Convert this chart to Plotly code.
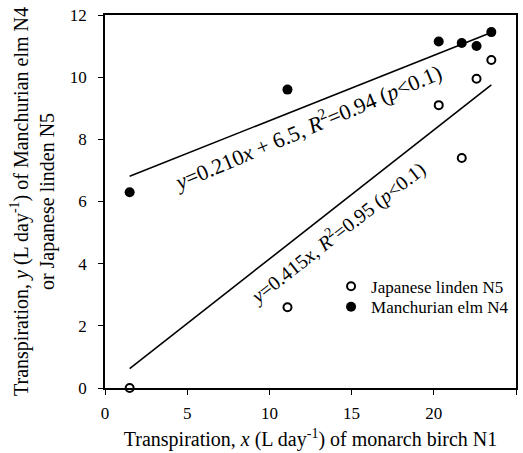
import plotly.graph_objects as go

# Daily transpiration (L/day): monarch birch N1 on x
birch_x = [1.5, 11.1, 20.3, 21.7, 22.6, 23.5]
# Japanese linden N5 and Manchurian elm N4 on the same days
linden_y = [0.0, 2.6, 9.1, 7.4, 9.95, 10.55]
elm_y = [6.3, 9.6, 11.15, 11.1, 11.0, 11.45]

# Fitted regressions
elm_slope, elm_icpt = 0.210, 6.5
linden_slope = 0.415
fit_x = [min(birch_x), max(birch_x)]

FONT = "Liberation Serif"

fig = go.Figure()

fig.add_trace(go.Scatter(
    x=fit_x, y=[elm_slope * v + elm_icpt for v in fit_x],
    mode="lines", line=dict(color="black", width=1.6), showlegend=False,
    hoverinfo="skip"))
fig.add_trace(go.Scatter(
    x=fit_x, y=[linden_slope * v for v in fit_x],
    mode="lines", line=dict(color="black", width=1.6), showlegend=False,
    hoverinfo="skip"))

fig.add_trace(go.Scatter(
    x=birch_x, y=linden_y, mode="markers", name="Japanese linden N5",
    legend="legend",
    marker=dict(symbol="circle-open", size=8, color="black",
                line=dict(width=2, color="black"))))
fig.add_trace(go.Scatter(
    x=birch_x, y=elm_y, mode="markers", name="Manchurian elm N4",
    legend="legend2",
    marker=dict(symbol="circle", size=10, color="black")))

fig.add_annotation(
    x=12.3, y=8.42, xref="x", yref="y", showarrow=False, textangle=-23,
    text="<i>y</i>=0.210<i>x</i> + 6.5, <i>R</i><sup>2</sup>=0.94 (<i>p</i><0.1)",
    font=dict(family=FONT, size=22, color="black"))
fig.add_annotation(
    x=14.1, y=5.0, xref="x", yref="y", showarrow=False, textangle=-38,
    text="<i>y</i>=0.415<i>x</i>, <i>R</i><sup>2</sup>=0.95 (<i>p</i><0.1)",
    font=dict(family=FONT, size=20, color="black"))

axis_common = dict(
    showline=True, linecolor="black", linewidth=1.5, mirror=True,
    ticks="outside", ticklen=5, tickcolor="black", tickwidth=1.2,
    showgrid=False, zeroline=False, automargin=False,
    tickfont=dict(family=FONT, size=17, color="black"))

fig.update_xaxes(
    range=[0, 25], dtick=5, ticklabelstandoff=4,
    title=dict(text="Transpiration, <i>x</i> (L day<sup>-1</sup>) of monarch birch N1",
               font=dict(family=FONT, size=20, color="black"), standoff=10),
    **axis_common)
fig.update_yaxes(
    range=[0, 12], dtick=2, ticklabelstandoff=8,
    title=dict(text="Transpiration, <i>y</i> (L day<sup>-1</sup>) of Manchurian elm N4<br>or Japanese linden N5",
               font=dict(family=FONT, size=20, color="black"), standoff=10),
    **axis_common)

fig.update_traces(cliponaxis=False)

legend_style = dict(xanchor="left", yanchor="top", bgcolor="rgba(0,0,0,0)",
                    itemwidth=30, font=dict(family=FONT, size=17, color="black"))

fig.update_layout(
    width=523, height=453,
    margin=dict(l=105, r=7, t=15, b=65),
    plot_bgcolor="white", paper_bgcolor="white",
    legend=dict(x=0.55, y=0.32, **legend_style),
    legend2=dict(x=0.55, y=0.265, **legend_style),
)

fig.write_html("out.html")
